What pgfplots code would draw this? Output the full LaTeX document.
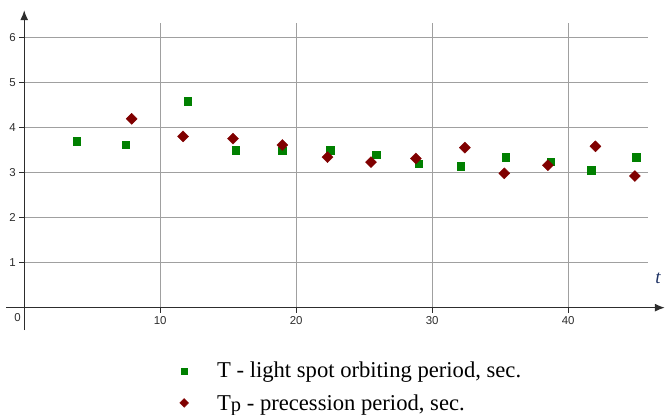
\documentclass[border=0pt]{standalone}
\usepackage{fontspec}
\setmainfont{Liberation Serif}
\newfontfamily\tickfont{Liberation Sans}
\usepackage{pgfplots}
\usepackage{pgfplotstable}
\pgfplotsset{compat=1.18}
\usetikzlibrary{arrows.meta}

\definecolor{ptgreen}{RGB}{0,128,0}
\definecolor{ptred}{RGB}{128,0,0}
\definecolor{gridc}{RGB}{160,160,160}
\definecolor{axc}{RGB}{45,45,45}
\definecolor{tblue}{RGB}{30,50,100}

% light spot orbiting period
\pgfplotstableread{
t    T
3.86 3.70
7.46 3.62
12.02 4.58
15.55 3.49
18.98 3.48
22.5 3.50
25.9 3.39
29.0 3.19
32.1 3.14
35.4 3.34
38.7 3.24
41.7 3.05
45.0 3.34
}\spot

% precession period
\pgfplotstableread{
t    Tp
7.90 4.19
11.68 3.80
15.35 3.75
18.98 3.61
22.3 3.34
25.5 3.23
28.8 3.31
32.4 3.55
35.3 2.98
38.5 3.16
42.0 3.58
44.9 2.92
}\prec

\begin{document}
\begin{tikzpicture}
\useasboundingbox (0,0) rectangle (665bp,415bp);
\begin{axis}[
    at={(6bp,84.8bp)}, anchor=south west,
    scale only axis, width=658.8bp, height=320bp,
    xmin=-1.34, xmax=47.1, ymin=-0.5, ymax=6.6,
    axis lines=middle, axis on top, clip=false,
    axis line style={axc, line width=1.2bp, -{Latex[length=10bp,width=8bp]}},
    xtick={10,20,30,40}, ytick={1,2,3,4,5,6},
    tick style={axc, line width=0.8bp},
    major tick length=5bp, tick align=outside,
    /pgf/number format/assume math mode=true,
    ticklabel style={font=\tickfont\fontsize{11.5}{12}\selectfont, text=axc},
    legend style={draw=none, fill=none,
        at={(axis description cs:0.261,-0.093)}, anchor=north west,
        inner sep=0pt, row sep=11bp,
        font=\fontsize{22.7}{24}\selectfont},
    legend cell align=left,
    legend image code/.code={\draw[#1, every mark/.append style={scale=0.8}]
        plot coordinates {(0bp,0bp)};
        \path[draw=none, fill=none] (-6bp,-5bp) rectangle (31bp,5bp);},
]
\pgfplotsinvokeforeach{1,...,6}{
    \draw[gridc, line width=0.9bp] (axis cs:0,#1) -- (axis cs:45.9,#1);
}
\pgfplotsinvokeforeach{10,20,30,40}{
    \draw[gridc, line width=0.9bp] (axis cs:#1,0) -- (axis cs:#1,6.32);
}

\addplot[only marks, mark=square*, mark size=3.8bp,
    mark options={draw=ptgreen, fill=ptgreen}] table[x=t, y=T] {\spot};
\addlegendentry{T - light spot orbiting period, sec.}

\addplot[only marks, mark=square*, mark size=3.9bp,
    mark options={draw=ptred, fill=ptred, rotate=45}] table[x=t, y=Tp] {\prec};
\addlegendentry{T\raisebox{-1bp}{\fontsize{20.5}{20}\selectfont p} - precession period, sec.}

\node[font=\tickfont\fontsize{11.5}{12}\selectfont, text=axc] at (axis cs:-0.49,-0.22) {0};
\node[font=\itshape\fontsize{19}{19}\selectfont, text=tblue] at (axis cs:46.6,0.66) {t};
\end{axis}
\end{tikzpicture}
\end{document}
